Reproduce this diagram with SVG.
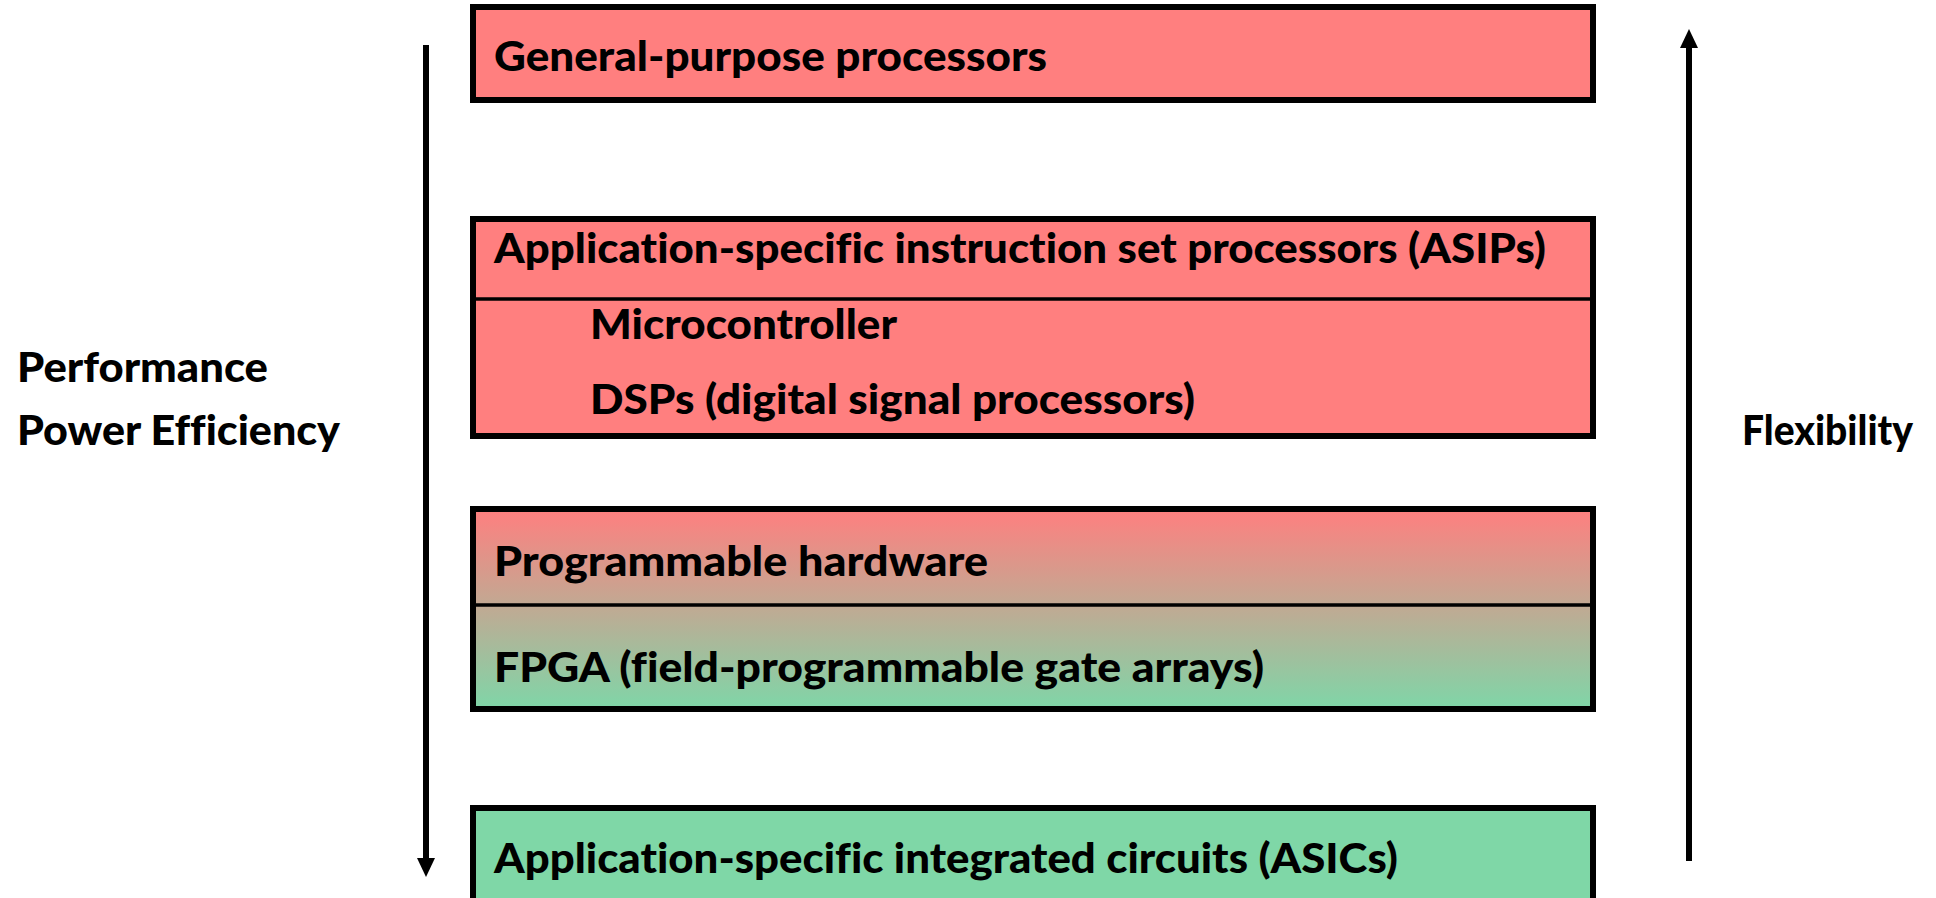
<svg xmlns="http://www.w3.org/2000/svg" width="1936" height="898" viewBox="0 0 1936 898">
<style>
.box{stroke:#000;stroke-width:6}
.div{stroke:#000;stroke-width:3.5}
.t{font-family:Lato,"Open Sans","Liberation Sans",sans-serif;font-weight:900;font-size:41px;fill:#000;font-variant-ligatures:none;font-feature-settings:"liga" 0,"dlig" 0}
.arr{stroke:#000;stroke-width:6;fill:none}
</style>
<defs>
<linearGradient id="g" x1="0" y1="0" x2="0" y2="1">
<stop offset="0" stop-color="#FF7F7F"/>
<stop offset="1" stop-color="#7FD6A8"/>
</linearGradient>
<marker id="ah" viewBox="0 0 19 18" refX="0" refY="9" markerWidth="19" markerHeight="18" markerUnits="userSpaceOnUse" orient="auto">
<path d="M0,0 L19,9 L0,18 Z" fill="#000"/>
</marker>
</defs>
<rect width="1936" height="898" fill="#fff"/>
<g id="gpp">
<rect class="box" x="473" y="7" width="1120" height="93" fill="#FF7F7F"/>
<text class="t" x="494" y="71" textLength="553" lengthAdjust="spacingAndGlyphs">General-purpose processors</text>
</g>
<g id="asip">
<rect class="box" x="473" y="219" width="1120" height="217" fill="#FF7F7F"/>
<line class="div" x1="473" y1="299" x2="1593" y2="299"/>
<text class="t" x="494" y="263" textLength="1052" lengthAdjust="spacingAndGlyphs">Application-specific instruction set processors (ASIPs)</text>
<text class="t" x="590" y="339" textLength="307" lengthAdjust="spacingAndGlyphs">Microcontroller</text>
<text class="t" x="590" y="414" textLength="605" lengthAdjust="spacingAndGlyphs">DSPs (digital signal processors)</text>
</g>
<g id="prog">
<rect class="box" x="473" y="509" width="1120" height="200" fill="url(#g)"/>
<line class="div" x1="473" y1="605" x2="1593" y2="605"/>
<text class="t" x="494" y="576" textLength="494" lengthAdjust="spacingAndGlyphs">Programmable hardware</text>
<text class="t" x="494" y="682" textLength="770" lengthAdjust="spacingAndGlyphs">FPGA (field-programmable gate arrays)</text>
</g>
<g id="asic">
<rect class="box" x="473" y="808" width="1120" height="120" fill="#7FD7A7"/>
<text class="t" x="494" y="873" textLength="904" lengthAdjust="spacingAndGlyphs">Application-specific integrated circuits (ASICs)</text>
</g>
<g id="perf-label">
<text class="t" x="17" y="382" textLength="251" lengthAdjust="spacingAndGlyphs">Performance</text>
<text class="t" x="17" y="445" textLength="323" lengthAdjust="spacingAndGlyphs">Power Efficiency</text>
</g>
<g id="flex-label">
<text class="t" x="1742" y="445" textLength="171" lengthAdjust="spacingAndGlyphs">Flexibility</text>
</g>
<g id="connectors">
<line class="arr" x1="426" y1="45" x2="426" y2="858" marker-end="url(#ah)"/>
<line class="arr" x1="1689" y1="861" x2="1689" y2="48" marker-end="url(#ah)"/>
</g>
</svg>
